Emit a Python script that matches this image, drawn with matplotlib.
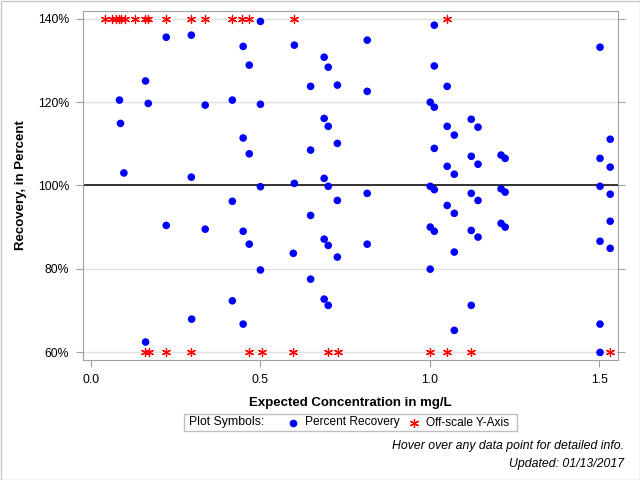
import matplotlib
matplotlib.use("Agg")
import matplotlib.pyplot as plt
from matplotlib.lines import Line2D
from matplotlib.patches import Rectangle

plt.rcParams['font.family'] = ['Liberation Sans', 'DejaVu Sans']

# percent recovery points (expected conc mg/L, recovery %)
conc = [0.084, 0.087, 0.097, 0.161, 0.161, 0.169, 0.222, 0.222, 0.296, 0.296,
        0.297, 0.337, 0.337, 0.417, 0.417, 0.417, 0.449, 0.449, 0.449, 0.449,
        0.467, 0.467, 0.467, 0.500, 0.500, 0.500, 0.500, 0.600, 0.600, 0.597,
        0.648, 0.648, 0.648, 0.648, 0.688, 0.688, 0.688, 0.688, 0.688,
        0.700, 0.700, 0.700, 0.700, 0.700, 0.727, 0.727, 0.727, 0.727,
        0.815, 0.815, 0.815, 0.815, 1.001, 1.001, 1.001, 1.001,
        1.013, 1.013, 1.013, 1.013, 1.013, 1.013, 1.051, 1.051, 1.051, 1.051,
        1.072, 1.072, 1.072, 1.072, 1.072, 1.122, 1.122, 1.122, 1.122, 1.122,
        1.142, 1.142, 1.142, 1.142, 1.210, 1.210, 1.210, 1.222, 1.222, 1.222,
        1.502, 1.502, 1.502, 1.502, 1.502, 1.502,
        1.532, 1.532, 1.532, 1.532, 1.532]
recov = [120.5, 114.9, 103.0, 125.1, 62.4, 119.7, 135.6, 90.4, 136.1, 102.0,
         67.9, 119.3, 89.5, 120.5, 96.2, 72.3, 133.4, 111.4, 89.0, 66.7,
         128.9, 107.6, 85.9, 139.4, 119.5, 99.7, 79.7, 133.7, 100.5, 83.7,
         123.8, 108.5, 92.8, 77.5, 130.8, 116.1, 101.7, 87.1, 72.7,
         128.4, 114.2, 99.8, 85.6, 71.2, 124.1, 110.1, 96.4, 82.8,
         134.9, 122.6, 98.1, 85.9, 120.0, 99.8, 90.0, 79.9,
         138.5, 128.7, 118.8, 108.9, 99.0, 89.0, 123.8, 114.2, 104.6, 95.2,
         112.1, 102.7, 93.3, 84.0, 65.2, 115.9, 107.0, 98.1, 89.2, 71.2,
         114.0, 105.1, 96.4, 87.6, 107.3, 99.2, 90.9, 106.5, 98.4, 90.0,
         133.2, 106.5, 99.8, 86.6, 66.7, 59.9,
         111.1, 104.4, 97.9, 91.4, 84.9]

# off-scale points, drawn at the axis limits
off_high_x = [0.041, 0.062, 0.074, 0.083, 0.090, 0.100, 0.130, 0.159, 0.169,
              0.222, 0.296, 0.337, 0.417, 0.446, 0.467, 0.600, 1.051]
off_low_x = [0.159, 0.171, 0.222, 0.296, 0.466, 0.504, 0.596, 0.699, 0.729,
             1.000, 1.050, 1.121, 1.531]
y_hi, y_lo = 140, 60

yticks = [60, 80, 100, 120, 140]
ytick_labels = ['60%', '80%', '100%', '120%', '140%']
xticks = [0.0, 0.5, 1.0, 1.5]
xtick_labels = ['0.0', '0.5', '1.0', '1.5']

star = (6, 2, 0)
gray = '#a0a0a0'

fig = plt.figure(figsize=(6.4, 4.8), dpi=100)
ax = fig.add_axes([83/640, 120/480, 535/640, 349/480])

ax.scatter(conc, recov, s=30, color='#0000ff', edgecolors='none', zorder=3, clip_on=False)
ax.scatter(off_high_x, [y_hi]*len(off_high_x), marker=star, s=34, color='#ff0000',
           linewidths=0.9, zorder=3, clip_on=False)
ax.scatter(off_low_x, [y_lo]*len(off_low_x), marker=star, s=34, color='#ff0000',
           linewidths=0.9, zorder=3, clip_on=False)

ax.axhline(100, color='black', lw=1.1, zorder=2)
ax.set_xlim(-0.0236, 1.555)
ax.set_ylim(58.08, 141.9)
ax.set_yticks(yticks)
ax.set_yticklabels(ytick_labels)
ax.set_xticks(xticks)
ax.set_xticklabels(xtick_labels)
ax.grid(axis='y', color='#e0e0e0', lw=1, zorder=0)
ax.set_axisbelow(True)
for sp in ax.spines.values():
    sp.set_color(gray)
ax.tick_params(axis='y', right=True, labelright=False, length=5, color=gray,
               labelsize=8.8, pad=5)
ax.tick_params(axis='x', length=5, color=gray, labelsize=8.8, pad=5)

ax.set_xlabel('Expected Concentration in mg/L', fontsize=9.5, fontweight='bold', labelpad=8)
ax.set_ylabel('Recovery, in Percent', fontsize=9.5, fontweight='bold', labelpad=8)

# legend box
W, H = 640, 480
fig.add_artist(Rectangle((184/W, (H-431)/H), 333/W, 17/H, transform=fig.transFigure,
                         facecolor='white', edgecolor='#c0c0c0', lw=1))
ly = (H-422.5)/H
fig.text(189/W, ly, 'Plot Symbols:', fontsize=8.8, va='center', ha='left')
fig.add_artist(Line2D([293/W], [ly], marker='o', markersize=5.5, color='#0000ff',
                      markeredgewidth=0, transform=fig.transFigure))
fig.text(305/W, ly, 'Percent Recovery', fontsize=8.6, va='center', ha='left')
fig.add_artist(Line2D([414/W], [ly], marker=star, markersize=6.5, color='#ff0000',
                      markeredgewidth=0.9, transform=fig.transFigure))
fig.text(426/W, ly, 'Off-scale Y-Axis', fontsize=8.6, va='center', ha='left')

fig.text(624/W, (H-446)/H, 'Hover over any data point for detailed info.',
         fontsize=8.8, style='italic', ha='right', va='center')
fig.text(624/W, (H-464)/H, 'Updated: 01/13/2017',
         fontsize=8.8, style='italic', ha='right', va='center')

# outer border
fig.add_artist(Rectangle((0.5/W, 0.5/H), 1-1/W, 1-1/H, transform=fig.transFigure,
                         facecolor='none', edgecolor='#c8c8c8', lw=1))

fig.savefig('out.png', dpi=100)
